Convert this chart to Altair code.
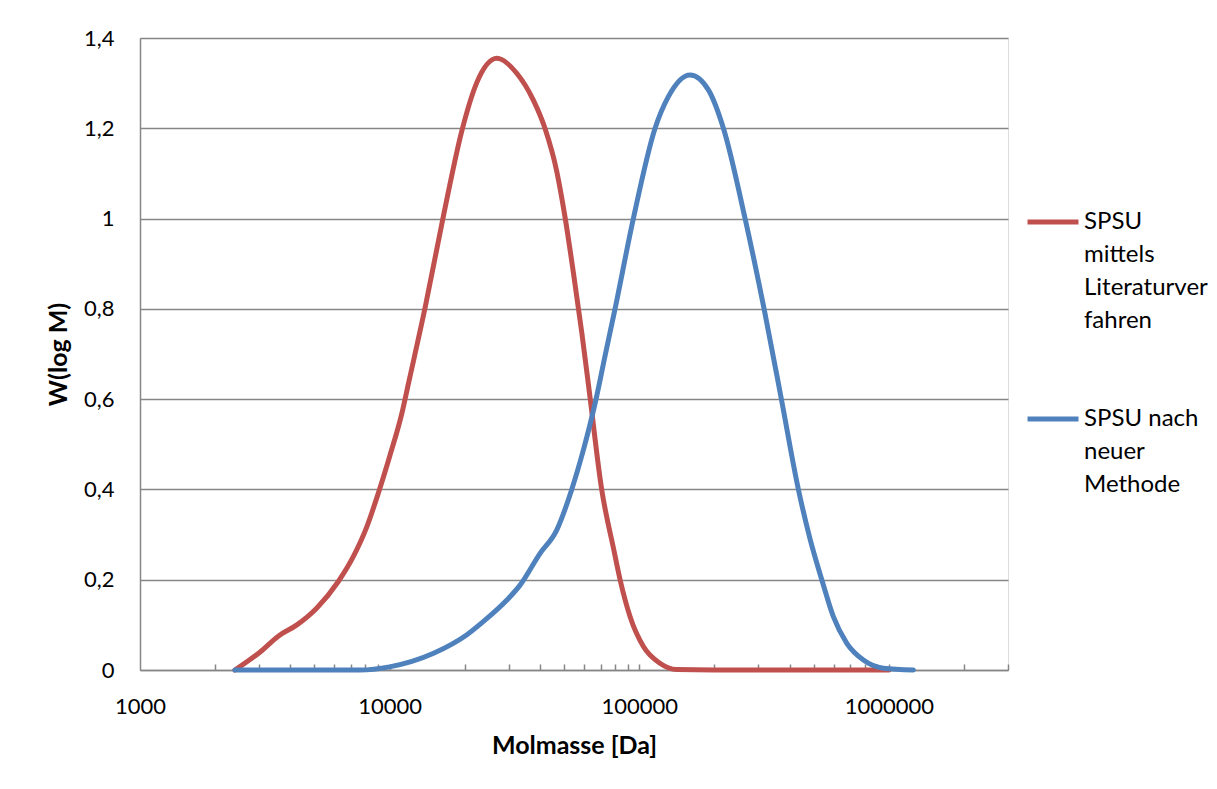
import altair as alt
import pandas as pd

# ---- data ----
series_names = ["SPSU mittels Literaturverfahren", "SPSU nach neuer Methode"]
legend_lines = [["SPSU", "mittels", "Literaturver", "fahren"], ["SPSU nach", "neuer", "Methode"]]
series_colors = ["#C0504D", "#4F81BD"]

red_m = [2400, 3030, 3580, 4250, 5100, 6230, 7150, 8100, 9000, 10000, 11200, 11900,
         13900, 16400, 19500, 22300, 26900, 32300, 37600, 41900, 46700, 50400, 54500,
         58900, 63300, 70700, 79100, 83800, 91900, 103900, 121000, 141000, 200000,
         500000, 1000000]
red_w = [0, 0.04, 0.075, 0.10, 0.137, 0.196, 0.251, 0.317, 0.391, 0.473, 0.569, 0.635,
         0.805, 1.004, 1.196, 1.30, 1.355, 1.322, 1.263, 1.20, 1.105, 1.004, 0.879,
         0.746, 0.61, 0.40, 0.266, 0.20, 0.118, 0.052, 0.015, 0.001, 0,
         0, 0]

blue_m = [2400, 5000, 7600, 10000, 15000, 20400, 23700, 29500, 33300, 40000, 46700,
          53650, 59700, 67130, 73200, 79980, 94700, 115700, 130800, 159800,
          189200, 217300, 265400, 316200, 370900, 434000, 483400, 538500, 599200,
          678300, 790400, 950500, 1254000]
blue_w = [0, 0, 0, 0.007, 0.037, 0.078, 0.107, 0.155, 0.188, 0.258, 0.31,
          0.40, 0.487, 0.60, 0.70, 0.80, 1.0, 1.20, 1.27, 1.318,
          1.285, 1.20, 1.0, 0.80, 0.60, 0.40, 0.29, 0.2, 0.118,
          0.059, 0.022, 0.004, 0]

x_labels = [1000, 10000, 100000, 1000000]
x_ticks = [2000, 3000, 4000, 5000, 6000, 7000, 8000, 9000, 10000,
           20000, 30000, 40000, 50000, 60000, 70000, 80000, 90000, 100000,
           200000, 300000, 400000, 500000, 600000, 700000, 800000, 900000, 1000000,
           2000000, 3000000]
y_ticks = [0, 0.2, 0.4, 0.6, 0.8, 1.0, 1.2, 1.4]

x_domain = [1000, 3000000]
y_domain = [0, 1.4]

df = pd.concat([
    pd.DataFrame({"M": red_m, "W": red_w, "Serie": series_names[0]}),
    pd.DataFrame({"M": blue_m, "W": blue_w, "Serie": series_names[1]}),
], ignore_index=True)

W, H = 868, 632
GRID = "#868686"
FONT = "Lato"

label_expr = " : ".join(
    f"datum.label == '{n}' ? [" + ",".join(f"'{l}'" for l in lines) + "]"
    for n, lines in zip(series_names[:-1], legend_lines[:-1])
) + " : [" + ",".join(f"'{l}'" for l in legend_lines[-1]) + "]"

color = alt.Color(
    "Serie:N",
    scale=alt.Scale(domain=series_names, range=series_colors),
    legend=alt.Legend(
        title=None, orient="none", legendX=885, legendY=156,
        symbolType="stroke", symbolSize=2600, symbolStrokeWidth=5,
        labelExpr=label_expr, labelFontSize=24, labelFont=FONT,
        labelColor="#000000", labelOffset=3, labelLimit=300,
        labelBaseline="middle", rowPadding=58, padding=0,
    ),
)

x_scale = alt.Scale(type="log", domain=x_domain, nice=False)
y_scale = alt.Scale(domain=y_domain, nice=False, zero=True)

base = alt.Chart(df)

red = base.transform_filter(alt.datum.Serie == series_names[0]).mark_line(
    strokeWidth=5, interpolate="monotone", strokeCap="round", strokeJoin="round"
).encode(
    x=alt.X("M:Q", scale=x_scale, axis=alt.Axis(
        values=x_labels, format="d", title="Molmasse [Da]", ticks=False, grid=False,
        labelFlush=False, labelOverlap=False,
        labelPadding=36, labelBaseline="middle", labelFontSize=22, labelFont=FONT,
        labelColor="#000000", domainColor=GRID, domainWidth=1.5,
        titleFont=FONT, titleFontSize=25, titleFontWeight="bold", titleColor="#000000",
        titleX=W / 2, titleY=75, titleBaseline="middle", titleAlign="center",
    )),
    y=alt.Y("W:Q", scale=y_scale, axis=alt.Axis(
        values=y_ticks, labelExpr="replace(format(datum.value, '~g'), '.', ',')",
        title="W(log M)", ticks=False, grid=True, gridColor=GRID, gridWidth=1.5,
        labelFlush=False, labelOverlap=False,
        domainColor=GRID, domainWidth=1.5, labelPadding=26, labelBaseline="middle",
        labelFontSize=22, labelFont=FONT, labelColor="#000000",
        titleFont=FONT, titleFontSize=25, titleFontWeight="bold", titleColor="#000000",
        titleX=-82, titleY=H / 2, titleBaseline="middle", titleAlign="center", titleAngle=270,
    )),
    color=color,
)

blue = base.transform_filter(alt.datum.Serie == series_names[1]).mark_line(
    strokeWidth=5, interpolate="monotone", strokeCap="round", strokeJoin="round"
).encode(
    x=alt.X("M:Q", scale=x_scale, axis=alt.Axis(
        orient="top", offset=-H, values=x_ticks, labels=False, title="",
        domain=False, grid=False, ticks=True, tickSize=6, tickColor=GRID, tickWidth=1.5,
    )),
    y=alt.Y("W:Q", scale=y_scale),
    color=color,
)

chart = alt.layer(red, blue).resolve_axis(x="independent").properties(
    width=W, height=H,
    autosize=alt.AutoSizeParams(type="none"),
    padding={"left": 132, "top": 30, "right": 200, "bottom": 100},
    background="white",
).configure_view(stroke="transparent").configure(
    style={"guide-label": {"lineHeight": 33}}
)

chart.save("out.html", embed_options={"renderer": "svg", "actions": False})
